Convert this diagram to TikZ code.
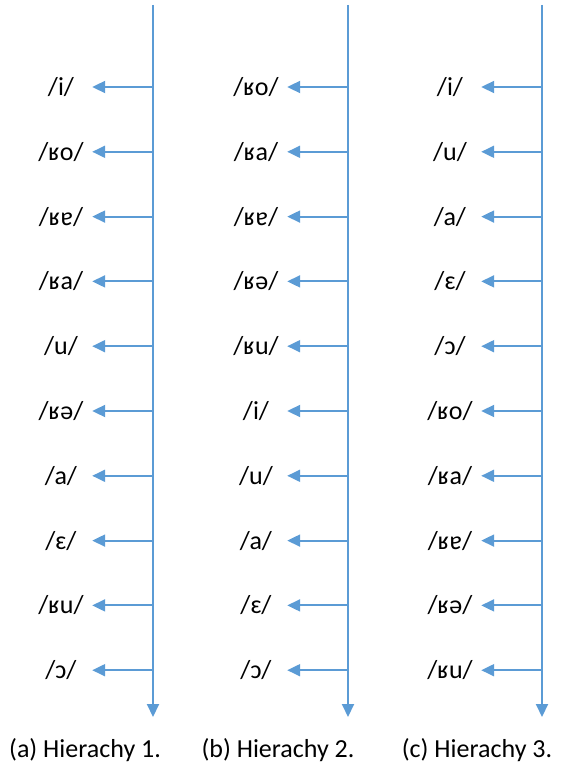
\documentclass[tikz,border=0pt]{standalone}
\usepackage{fontspec}
\setmainfont{Carlito}
\usetikzlibrary{arrows.meta}
\definecolor{ablue}{HTML}{5B9BD5}
\begin{document}
\begin{tikzpicture}[x=1pt,y=-1pt,
  axis/.style={draw=ablue,line width=2pt,-{Triangle[length=13pt,width=12pt]}},
  tick/.style={draw=ablue,line width=2pt,shorten >=1pt,-{Triangle[length=13pt,width=12pt]}},
  lab/.style={inner sep=0pt,minimum width=60pt,align=center,font=\fontsize{26}{30}\selectfont},
  captext/.style={inner sep=0pt,font=\fontsize{26}{30}\selectfont}]
\useasboundingbox (0,0) rectangle (569,775);
\foreach \c/\lx/\labs in {1/153/{/i/,/ʁo/,/ʁɐ/,/ʁa/,/u/,/ʁə/,/a/,/ɛ/,/ʁu/,/ɔ/},
                          2/348/{/ʁo/,/ʁa/,/ʁɐ/,/ʁə/,/ʁu/,/i/,/u/,/a/,/ɛ/,/ɔ/},
                          3/542/{/i/,/u/,/a/,/ɛ/,/ɔ/,/ʁo/,/ʁa/,/ʁɐ/,/ʁə/,/ʁu/}}{
  \coordinate (top\c) at (\lx,5);
  \coordinate (bot\c) at (\lx,717);
  \draw[axis] (top\c) -- (bot\c);
  \foreach \t [count=\r] in \labs {
    \pgfmathsetmacro{\yy}{87+64.8*(\r-1)}
    \coordinate (p\c-\r) at (\lx,\yy);
    \node[lab] (l\c-\r) at (\lx-92,\yy) {\t};
    \draw[tick] (p\c-\r) -- (l\c-\r.east);
  }
}
\node[captext] (ca) at (85,750) {(a) Hierachy 1.};
\node[captext] (cb) at (278,750) {(b) Hierachy 2.};
\node[captext] (cc) at (477,750) {(c) Hierachy 3.};
\end{tikzpicture}
\end{document}
